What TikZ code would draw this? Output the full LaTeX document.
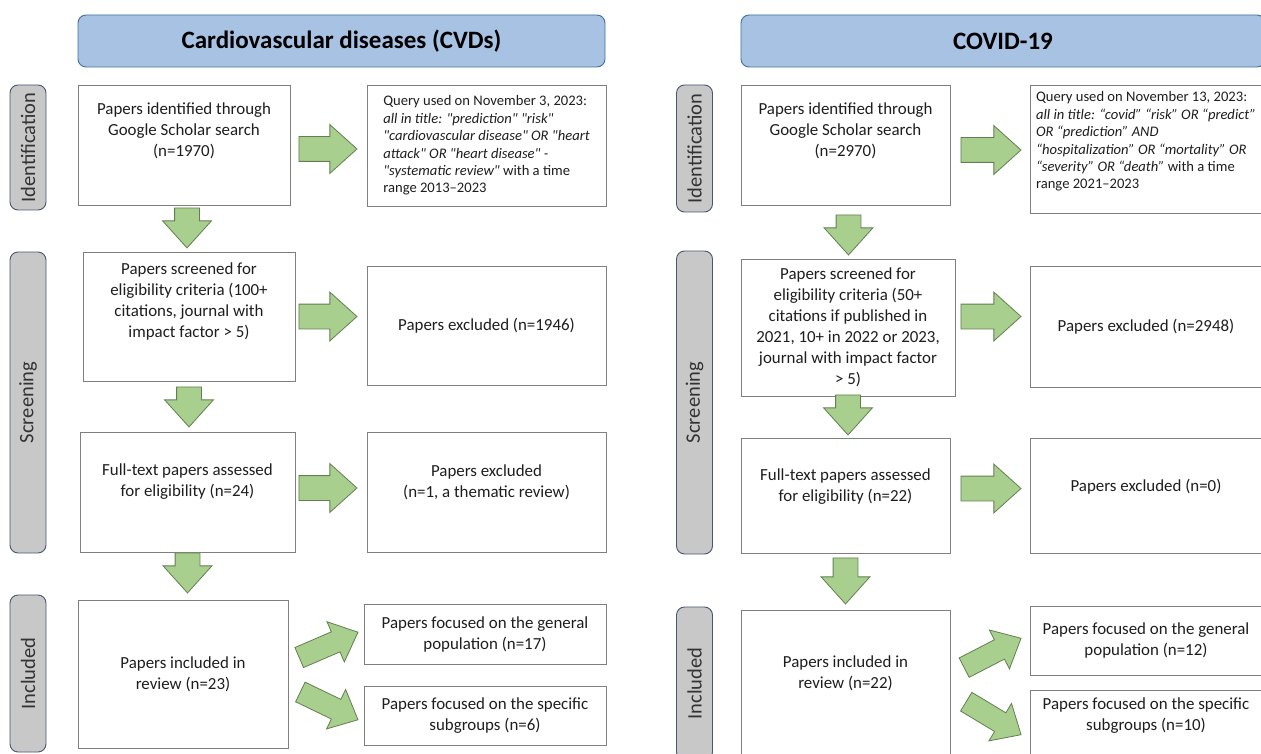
\documentclass[tikz,border=0pt]{standalone}
\usepackage{fontspec}
\setmainfont{Carlito}[Ligatures=TeXOff]
\usetikzlibrary{shapes.arrows,calc}

\definecolor{ttlblue}{HTML}{A7C2E3}
\definecolor{ttlline}{HTML}{41719C}
\definecolor{labgray}{HTML}{C8C8C8}
\definecolor{labline}{HTML}{4A5670}
\definecolor{arrfill}{HTML}{A9CF8F}
\definecolor{arrline}{HTML}{62804F}
\definecolor{boxline}{HTML}{7F7F7F}
\definecolor{txtgray}{HTML}{1E1E1E}
\newcommand{\padbot}[1]{\\\rule{0pt}{#1pt}}

\begin{document}
\begin{tikzpicture}[x=1pt,y=-1pt,
    ttl/.style={draw=ttlline,fill=ttlblue,rounded corners=8pt,line width=0.9pt,inner sep=0pt,minimum height=52pt,font=\fontsize{25}{30}\selectfont\bfseries},
    stage/.style={draw=labline,fill=labgray,rounded corners=8pt,line width=0.9pt,rotate=90,inner sep=0pt,minimum height=36pt,text=black!80,font=\fontsize{20.5}{24}\selectfont},
    box/.style={draw=boxline,fill=white,line width=0.9pt,align=center,inner sep=0pt,text=txtgray,font=\fontsize{16.9}{21}\selectfont},
    qbox/.style={box,align=left,font=\fontsize{14.6}{17.4}\selectfont},
    blk/.style={single arrow,draw=arrline,fill=arrfill,line width=0.8pt,inner xsep=0pt,inner ysep=12pt,minimum height=58pt,single arrow head extend=12pt,single arrow tip angle=84,sloped,allow upside down,pos=1,anchor=tip},
    dblk/.style={blk,minimum height=40pt},
    sblk/.style={blk,inner ysep=10.5pt,minimum height=64pt,single arrow head extend=11pt}]
    \useasboundingbox[fill=white] (0,0) rectangle (1261,754);

    % CVDs
    \node[ttl,minimum width=527pt] (ttlL) at (341.5,41) {Cardiovascular diseases (CVDs)};
    \node[stage,minimum width=125pt] (idtL) at (28,147.5) {Identification};
    \node[stage,minimum width=301pt] (scrL) at (28,402.5) {Screening};
    \node[stage,minimum width=157pt] (incL) at (28,673.5) {Included};

    \node[box,minimum width=212pt,minimum height=120pt] (idL) at (184,145) {Papers identified through\\Google Scholar search\\(n=1970)\padbot{27}};
    \node[qbox,minimum width=239pt,minimum height=121pt] (qL) at (486.5,145.5) {Query used on November 3, 2023:\\\textit{all in title: "prediction" "risk"}\\\textit{"cardiovascular disease" OR "heart}\\\textit{attack" OR "heart disease" -}\\\textit{"systematic review"} with a time\\range 2013–2023};
    \node[box,minimum width=212pt,minimum height=129pt] (scL) at (189,316.5) {Papers screened for\\eligibility criteria (100+\\citations, journal with\\impact factor > 5)\padbot{29}};
    \node[box,minimum width=239pt,minimum height=119pt] (exL) at (486.5,325.5) {Papers excluded (n=1946)};
    \node[box,minimum width=215pt,minimum height=120pt] (ftL) at (187.5,492) {Full-text papers assessed\\for eligibility (n=24)\padbot{19}};
    \node[box,minimum width=239pt,minimum height=120pt] (ex2L) at (486.5,492) {Papers excluded\\(n=1, a thematic review)\padbot{19}};
    \node[box,minimum width=210pt,minimum height=148pt] (inL) at (183,674) {Papers included in\\review (n=23)};
    \node[box,minimum width=242pt,minimum height=60pt] (genL) at (485,634) {Papers focused on the general\\population (n=17)};
    \node[box,minimum width=242pt,minimum height=59pt] (subL) at (485,715.5) {Papers focused on the specific\\subgroups (n=6)};

    \path ($(idL.east)+(0,4)$) -- node[blk] {} ($(idL.east -| qL.west)+(-9,4)$);
    \path (scL.east) -- node[blk] {} ($(scL.east -| exL.west)+(-9,0)$);
    \path ($(ftL.east)+(0,-4)$) -- node[blk] {} ($(ftL.east -| ex2L.west)+(-9,-4)$);
    \path ($(idL.south)+(3,0)$) -- node[dblk] {} ($(idL.south |- scL.north)+(3,-3)$);
    \path (scL.south) -- node[dblk] {} ($(scL.south |- ftL.north)+(0,-4)$);
    \path (ftL.south) -- node[dblk] {} ($(ftL.south |- inL.north)+(0,-6)$);
    \path ($(inL.east)+(12,-17)$) -- node[sblk] {} ($(genL.west)+(-5,-2)$);
    \path ($(inL.east)+(12,18)$) -- node[sblk] {} ($(subL.west)+(-5,4.5)$);

    % COVID-19
    \node[ttl,minimum width=524pt] (ttlR) at (1003,41) {COVID-19};
    \node[stage,minimum width=127pt] (idtR) at (694.5,148.5) {Identification};
    \node[stage,minimum width=303pt] (scrR) at (694.5,402.5) {Screening};
    \node[stage,minimum width=153pt] (incR) at (694.5,683.5) {Included};

    \node[box,minimum width=209pt,minimum height=120pt] (idR) at (845.5,145) {Papers identified through\\Google Scholar search\\(n=2970)\padbot{27}};
    \node[qbox,minimum width=232pt,minimum height=128pt] (qR) at (1146,149) {Query used on November 13, 2023:\\\textit{all in title: “covid” “risk” OR “predict”}\\\textit{OR “prediction” AND}\\\textit{“hospitalization” OR “mortality” OR}\\\textit{“severity” OR “death”} with a time\\range 2021–2023\padbot{1}};
    \node[box,minimum width=214pt,minimum height=137pt] (scR) at (848,327.5) {Papers screened for\\eligibility criteria (50+\\citations if published in\\2021, 10+ in 2022 or 2023,\\journal with impact factor\\> 5)};
    \node[box,minimum width=232pt,minimum height=121pt] (exR) at (1146,326.5) {Papers excluded (n=2948)};
    \node[box,minimum width=209pt,minimum height=115pt] (ftR) at (845.5,495.5) {Full-text papers assessed\\for eligibility (n=22)\padbot{17}};
    \node[box,minimum width=232pt,minimum height=115pt] (ex2R) at (1146,495.5) {Papers excluded (n=0)\padbot{1}};
    \node[box,minimum width=209pt,minimum height=150pt] (inR) at (845.5,685) {Papers included in\\review (n=22)\padbot{23}};
    \node[box,minimum width=232pt,minimum height=69pt] (genR) at (1146,640.5) {Papers focused on the general\\population (n=12)};
    \node[box,minimum width=232pt,minimum height=70pt] (subR) at (1146,725) {Papers focused on the specific\\subgroups (n=10)\padbot{1}};

    \path ($(idR.east)+(0,5)$) -- node[blk,minimum height=60pt] {} ($(idR.east -| qR.west)+(-8,5)$);
    \path ($(scR.east)+(0,-11)$) -- node[blk,minimum height=60pt] {} ($(scR.east -| exR.west)+(-8,-11)$);
    \path ($(ftR.east)+(0,-7)$) -- node[blk,minimum height=60pt] {} ($(ftR.east -| ex2R.west)+(-8,-7)$);
    \path ($(idR.south)+(3,0)$) -- node[dblk] {} ($(idR.south |- scR.north)+(3,-3)$);
    \path (scR.south) -- node[dblk] {} ($(scR.south |- ftR.north)+(0,-2)$);
    \path (ftR.south) -- node[dblk,minimum height=46pt] {} ($(ftR.south |- inR.north)+(0,-5)$);
    \path ($(inR.east)+(13,-17)$) -- node[sblk] {} ($(genR.west)+(-8,-2.5)$);
    \path ($(inR.east)+(13,15)$) -- node[sblk] {} ($(subR.west)+(-8,10)$);
\end{tikzpicture}
\end{document}
